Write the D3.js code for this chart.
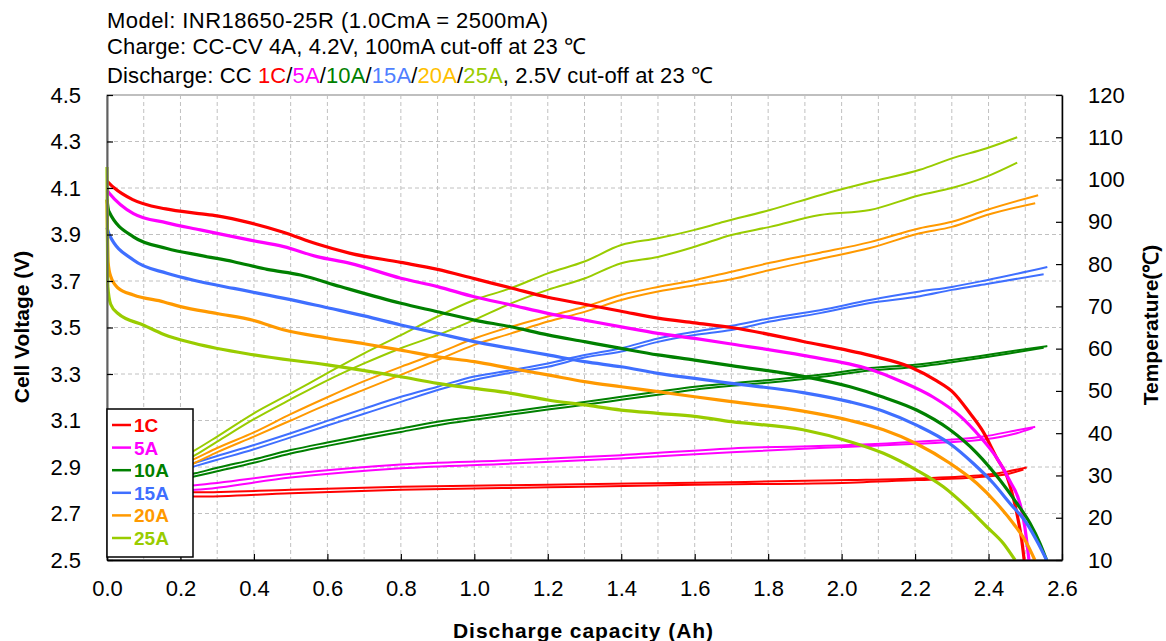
<!DOCTYPE html>
<html><head><meta charset="utf-8">
<script src="https://cdn.jsdelivr.net/npm/d3@7"></script>
<style>
html,body{margin:0;padding:0;background:#fff;}
svg text{font-family:"Liberation Sans",Arial,sans-serif;}
</style></head>
<body><svg id="c" width="1166" height="641"></svg>
<script>
// ---------- data (Ah, value) ----------
const seriesNames = ["1C","5A","10A","15A","20A","25A"];
const seriesColors = ["#ff0000","#ff00ff","#008000","#3f6fff","#ff9900","#99cc00"];
const titleColors  = ["#ff0000","#ff00ff","#008000","#4f7fff","#ffc000","#99cc00"];
const xTicks = [0,0.2,0.4,0.6,0.8,1.0,1.2,1.4,1.6,1.8,2.0,2.2,2.4,2.6];
const vTicks = [2.5,2.7,2.9,3.1,3.3,3.5,3.7,3.9,4.1,4.3,4.5];
const tTicks = [10,20,30,40,50,60,70,80,90,100,110,120];

// Cell voltage (V)
const v1C = [[0,4.13],[0.02,4.10],[0.07,4.05],[0.16,4.01],[0.25,3.99],[0.3,3.98],[0.39,3.95],[0.48,3.91],[0.57,3.86],[0.66,3.82],[0.8,3.78],[0.9,3.75],[1.0,3.71],[1.1,3.67],[1.2,3.63],[1.3,3.60],[1.4,3.57],[1.5,3.54],[1.6,3.52],[1.7,3.50],[1.895,3.44],[2.077,3.38],[2.187,3.33],[2.259,3.27],[2.304,3.22],[2.35,3.13],[2.386,3.05],[2.422,2.94],[2.45,2.86],[2.467,2.77],[2.481,2.67],[2.49,2.59],[2.497,2.50]];
const v5A = [[0,4.09],[0.005,4.08],[0.072,3.99],[0.163,3.95],[0.254,3.92],[0.3,3.905],[0.39,3.876],[0.481,3.848],[0.572,3.805],[0.662,3.776],[0.8,3.712],[0.9,3.676],[1.0,3.632],[1.1,3.597],[1.2,3.561],[1.3,3.532],[1.4,3.503],[1.5,3.475],[1.6,3.453],[1.7,3.429],[1.895,3.38],[2.077,3.32],[2.159,3.27],[2.25,3.20],[2.322,3.12],[2.377,3.03],[2.422,2.94],[2.458,2.84],[2.486,2.74],[2.499,2.64],[2.51,2.50]];
const v10A = [[0,4.05],[0.005,4.00],[0.072,3.89],[0.163,3.84],[0.254,3.81],[0.345,3.783],[0.436,3.75],[0.527,3.726],[0.635,3.676],[0.8,3.604],[0.9,3.568],[1.0,3.532],[1.1,3.503],[1.2,3.468],[1.3,3.439],[1.4,3.41],[1.5,3.382],[1.6,3.36],[1.7,3.336],[1.895,3.29],[2.023,3.245],[2.114,3.20],[2.204,3.145],[2.295,3.06],[2.368,2.96],[2.431,2.844],[2.477,2.744],[2.513,2.658],[2.54,2.572],[2.558,2.50]];
const v15A = [[0,3.93],[0.006,3.90],[0.072,3.79],[0.163,3.733],[0.254,3.697],[0.345,3.668],[0.5,3.62],[0.6,3.585],[0.7,3.55],[0.8,3.511],[0.9,3.475],[1.0,3.439],[1.1,3.41],[1.2,3.382],[1.3,3.353],[1.4,3.331],[1.5,3.303],[1.6,3.281],[1.7,3.26],[1.895,3.22],[2.023,3.18],[2.114,3.14],[2.204,3.08],[2.295,3.00],[2.358,2.916],[2.413,2.83],[2.458,2.744],[2.504,2.658],[2.535,2.572],[2.558,2.50]];
const v20A = [[0,4.05],[0.003,3.78],[0.01,3.72],[0.03,3.67],[0.072,3.64],[0.155,3.61],[0.2,3.59],[0.3,3.56],[0.4,3.53],[0.48,3.49],[0.6,3.455],[0.7,3.43],[0.8,3.403],[0.9,3.374],[1.0,3.353],[1.1,3.324],[1.2,3.296],[1.3,3.267],[1.4,3.245],[1.5,3.224],[1.6,3.202],[1.7,3.181],[1.895,3.14],[2.023,3.10],[2.114,3.06],[2.204,3.00],[2.295,2.916],[2.368,2.83],[2.422,2.744],[2.467,2.658],[2.504,2.572],[2.526,2.50]];
const v25A = [[0,4.19],[0.002,3.68],[0.01,3.60],[0.03,3.56],[0.1,3.51],[0.155,3.47],[0.237,3.432],[0.4,3.382],[0.6,3.339],[0.8,3.288],[0.9,3.26],[1.0,3.238],[1.1,3.217],[1.2,3.188],[1.3,3.167],[1.4,3.145],[1.5,3.131],[1.6,3.118],[1.7,3.095],[1.895,3.06],[2.023,3.009],[2.114,2.959],[2.204,2.887],[2.277,2.815],[2.34,2.729],[2.395,2.643],[2.44,2.572],[2.472,2.50]];

// Cell temperature (°C), two cells per rate
const t1C_a = [[0,26.5],[0.24,26.0],[0.5,26.6],[0.8,27.3],[1.2,27.8],[1.6,28.3],[2.023,28.9],[2.204,29.3],[2.386,30.1],[2.45,30.9],[2.504,31.9]];
const t1C_b = [[0,26.0],[0.24,25.0],[0.5,25.8],[0.8,26.6],[1.2,27.2],[1.6,27.8],[2.023,28.3],[2.204,28.9],[2.386,29.7],[2.45,30.3],[2.495,31.4]];
const t5A_a = [[0,26.5],[0.24,27.7],[0.5,30.4],[0.8,32.6],[1.1,33.6],[1.4,34.8],[1.7,36.4],[2.023,37.2],[2.204,38.0],[2.386,39.2],[2.477,40.7],[2.527,41.5]];
const t5A_b = [[0,26.0],[0.24,26.6],[0.5,29.5],[0.8,31.7],[1.1,32.8],[1.4,34.0],[1.7,35.5],[2.023,36.8],[2.204,37.5],[2.386,38.5],[2.477,40.0],[2.52,41.2]];
const t10A_a = [[0,26.5],[0.24,30.5],[0.3,31.8],[0.4,33.8],[0.5,36.0],[0.6,37.8],[0.7,39.5],[0.8,41.1],[0.9,42.7],[1.0,43.9],[1.1,45.1],[1.2,46.3],[1.3,47.4],[1.4,48.6],[1.5,49.8],[1.6,51.0],[1.7,51.8],[1.805,52.6],[1.941,53.8],[2.077,55.4],[2.213,56.3],[2.3,57.3],[2.395,58.5],[2.48,59.6],[2.56,60.6]];
const t10A_b = [[0,26.0],[0.24,29.8],[0.3,31.0],[0.4,33.0],[0.5,35.2],[0.6,37.0],[0.7,38.7],[0.8,40.3],[0.9,41.9],[1.0,43.2],[1.1,44.4],[1.2,45.6],[1.3,46.7],[1.4,47.9],[1.5,49.1],[1.6,50.3],[1.7,51.2],[1.805,52.0],[1.941,53.3],[2.077,54.8],[2.213,55.8],[2.3,56.8],[2.395,58.0],[2.48,59.2],[2.55,60.2]];
const t15A_a = [[0,26.5],[0.24,33.0],[0.3,34.6],[0.4,37.2],[0.5,40.0],[0.6,42.9],[0.7,45.8],[0.8,48.6],[0.9,51.0],[1.0,53.4],[1.1,54.9],[1.2,56.5],[1.3,58.5],[1.4,60.1],[1.5,62.4],[1.6,64.0],[1.7,65.4],[1.805,67.2],[1.941,69.1],[2.077,71.5],[2.213,73.5],[2.3,74.6],[2.395,76.2],[2.56,79.3]];
const t15A_b = [[0,26.0],[0.24,32.2],[0.3,33.7],[0.4,36.2],[0.5,39.0],[0.6,41.8],[0.7,44.6],[0.8,47.4],[0.9,50.2],[1.0,52.6],[1.1,54.3],[1.2,55.7],[1.3,57.9],[1.4,59.3],[1.5,61.6],[1.6,63.2],[1.7,64.4],[1.805,66.4],[1.941,68.4],[2.077,70.8],[2.213,72.4],[2.3,73.9],[2.395,75.3],[2.55,77.6]];
const t20A_a = [[0,26.5],[0.24,34.0],[0.3,36.5],[0.4,40.2],[0.5,44.5],[0.6,48.5],[0.7,52.3],[0.8,55.7],[0.9,58.9],[1.0,62.4],[1.1,65.2],[1.2,67.6],[1.3,69.9],[1.4,72.7],[1.5,74.6],[1.6,76.2],[1.7,78.2],[1.805,80.3],[1.941,82.7],[2.077,85.2],[2.213,88.5],[2.3,90.0],[2.395,92.8],[2.535,96.3]];
const t20A_b = [[0,26.0],[0.24,33.0],[0.3,35.5],[0.4,39.2],[0.5,43.0],[0.6,46.8],[0.7,50.3],[0.8,53.8],[0.9,57.3],[1.0,60.9],[1.1,63.6],[1.2,66.4],[1.3,68.7],[1.4,71.5],[1.5,73.5],[1.6,75.0],[1.7,76.4],[1.805,78.6],[1.941,81.2],[2.077,83.8],[2.213,87.3],[2.3,88.8],[2.395,91.6],[2.527,94.4]];
const t25A_a = [[0,27.0],[0.24,36.0],[0.3,39.2],[0.4,44.7],[0.5,49.4],[0.6,54.2],[0.7,58.9],[0.8,63.2],[0.9,67.6],[1.0,71.5],[1.1,74.3],[1.2,77.8],[1.3,80.6],[1.4,84.5],[1.5,86.1],[1.6,88.1],[1.68,90.0],[1.805,92.8],[1.941,96.3],[2.077,99.4],[2.213,102.3],[2.3,105.0],[2.395,107.4],[2.478,110.0]];
const t25A_b = [[0,26.5],[0.24,34.8],[0.3,38.0],[0.4,43.3],[0.5,48.0],[0.6,52.5],[0.7,56.5],[0.8,60.1],[0.9,63.2],[1.0,66.8],[1.1,70.7],[1.2,73.9],[1.3,76.6],[1.4,80.2],[1.5,81.7],[1.6,84.1],[1.7,86.9],[1.805,88.8],[1.941,91.6],[2.077,92.8],[2.213,96.3],[2.3,98.0],[2.395,100.7],[2.478,104.0]];

const voltageSeries = [v1C,v5A,v10A,v15A,v20A,v25A];
const tempSeries = [[t1C_a,t1C_b],[t5A_a,t5A_b],[t10A_a,t10A_b],[t15A_a,t15A_b],[t20A_a,t20A_b],[t25A_a,t25A_b]];

// ---------- layout ----------
const L = 107, R = 1062, T = 95, B = 560;
const svg = d3.select("#c");
const x = d3.scaleLinear().domain([0,2.6]).range([L,R]);
const yV = d3.scaleLinear().domain([2.5,4.5]).range([B,T]);
const yT = d3.scaleLinear().domain([10,120]).range([B,T]);

// plot background frame
svg.append("rect").attr("x",L).attr("y",T).attr("width",R-L).attr("height",B-T)
  .attr("fill","#fff").attr("stroke","#808080").attr("stroke-width",1);

// gridlines
const grid = svg.append("g").attr("stroke","#c0c0c0").attr("stroke-width",1).attr("stroke-dasharray","4,3");
grid.selectAll("line.v").data(d3.range(1,26).map(i=>i/10)).join("line")
  .attr("x1",d=>x(d)).attr("x2",d=>x(d)).attr("y1",T).attr("y2",B);
grid.selectAll("line.h").data(vTicks.slice(1,-1)).join("line")
  .attr("x1",L).attr("x2",R).attr("y1",d=>yV(d)).attr("y2",d=>yV(d));

// temperature lines
const lineT = d3.line().x(d=>x(d[0])).y(d=>yT(d[1])).curve(d3.curveMonotoneX);
tempSeries.forEach((pair,i)=>{
  pair.forEach(s=>{
    svg.append("path").datum(s).attr("d",lineT).attr("fill","none")
      .attr("stroke",seriesColors[i]).attr("stroke-width",2);
  });
});
// voltage lines
const lineV = d3.line().x(d=>x(d[0])).y(d=>yV(d[1])).curve(d3.curveMonotoneX);
voltageSeries.forEach((s,i)=>{
  svg.append("path").datum(s).attr("d",lineV).attr("fill","none")
    .attr("stroke",seriesColors[i]).attr("stroke-width",3.2).attr("stroke-linejoin","round");
});

// axes
const fmt1 = d3.format(".1f");
const axL = svg.append("g").attr("transform",`translate(${L},0)`)
  .call(d3.axisLeft(yV).tickValues(vTicks).tickFormat(fmt1).tickSizeInner(-6).tickSizeOuter(0).tickPadding(26));
const axR = svg.append("g").attr("transform",`translate(${R},0)`)
  .call(d3.axisRight(yT).tickValues(tTicks).tickFormat(d3.format("d")).tickSizeInner(-6).tickSizeOuter(0).tickPadding(26));
const axB = svg.append("g").attr("transform",`translate(0,${B})`)
  .call(d3.axisBottom(x).tickValues(xTicks).tickFormat(fmt1).tickSizeInner(-6).tickSizeOuter(0).tickPadding(20));
[axL,axR,axB].forEach(a=>{
  a.selectAll("text").attr("font-size",22).attr("fill","#000").attr("font-family","Liberation Sans, Arial, sans-serif");
  a.selectAll(".tick line").attr("stroke","#000").attr("stroke-width",1.2);
});
axL.select(".domain").attr("stroke","#606060").attr("stroke-width",2);
axR.select(".domain").attr("stroke","#000").attr("stroke-width",1.5);
axB.select(".domain").attr("stroke","#000").attr("stroke-width",2.2);

// axis titles
svg.append("text").attr("transform","translate(29,327) rotate(-90)").attr("text-anchor","middle")
  .attr("font-weight","bold").attr("font-size",21).text("Cell Voltage (V)");
svg.append("text").attr("transform","translate(1158,325) rotate(-90)").attr("text-anchor","middle")
  .attr("font-weight","bold").attr("font-size",21).text("Temperature(℃)");
svg.append("text").attr("x",583).attr("y",638).attr("text-anchor","middle")
  .attr("font-weight","bold").attr("font-size",21).attr("textLength",260).text("Discharge capacity (Ah)");

// title block
const tg = svg.append("g").attr("font-size",22).attr("fill","#000");
tg.append("text").attr("x",107).attr("y",28).attr("textLength",441).text("Model: INR18650-25R (1.0CmA = 2500mA)");
tg.append("text").attr("x",107).attr("y",54).attr("textLength",479).text("Charge: CC-CV 4A, 4.2V, 100mA cut-off at 23 ℃");
const t3 = tg.append("text").attr("x",107).attr("y",83).attr("textLength",606);
t3.append("tspan").text("Discharge: CC ");
seriesNames.forEach((n,i)=>{
  t3.append("tspan").attr("fill",titleColors[i]).text(n);
  if(i<seriesNames.length-1) t3.append("tspan").text("/");
});
t3.append("tspan").text(", 2.5V cut-off at 23 ℃");

// legend
const lg = svg.append("g");
lg.append("rect").attr("x",107).attr("y",409).attr("width",86).attr("height",148)
  .attr("fill","#fff").attr("stroke","#000").attr("stroke-width",1.5);
seriesNames.forEach((n,i)=>{
  const yy = 425 + i*22.6;
  lg.append("line").attr("x1",112).attr("x2",131).attr("y1",yy).attr("y2",yy)
    .attr("stroke",seriesColors[i]).attr("stroke-width",2.5);
  lg.append("text").attr("x",134).attr("y",yy+7).attr("font-size",19).attr("font-weight","bold")
    .attr("fill",seriesColors[i]).text(n);
});
</script></body></html>
